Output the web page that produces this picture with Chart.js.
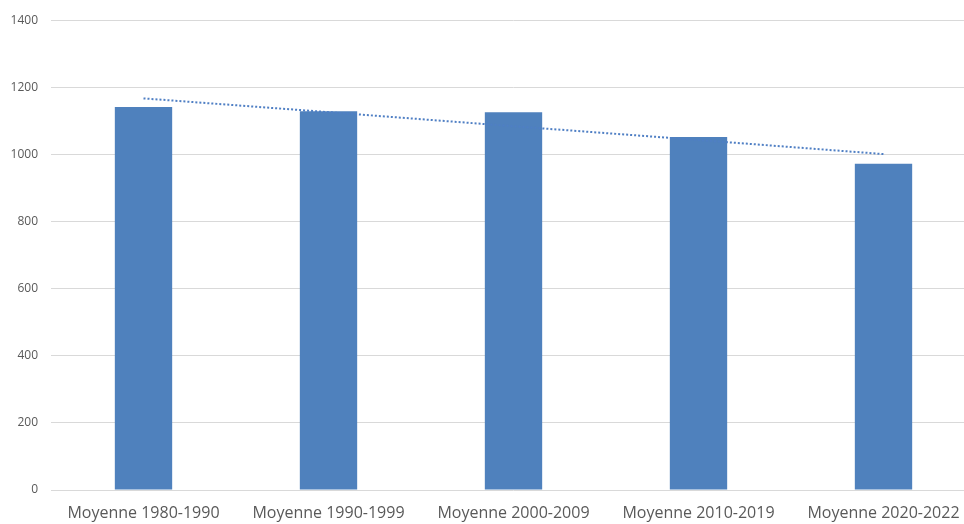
<!DOCTYPE html>
<html><head><meta charset="utf-8">
<script src="https://cdn.jsdelivr.net/npm/chart.js@4.4.0/dist/chart.umd.min.js"></script>
<style>
html,body{margin:0;padding:0;overflow:hidden;background:#fff;}
#wrap{width:990px;height:524px;}
</style></head>
<body><div id="wrap"><canvas id="c"></canvas></div>
<script>
const categories = ["Moyenne 1980-1990","Moyenne 1990-1999","Moyenne 2000-2009","Moyenne 2010-2019","Moyenne 2020-2022"];
const values = [1141, 1129, 1126, 1052, 972];
const trendValues = [1167, 1126, 1084, 1043, 1001];
const yTicks = [0, 200, 400, 600, 800, 1000, 1200, 1400];

new Chart(document.getElementById('c'), {
  data: {
    labels: categories,
    datasets: [
      {type:'line', data: trendValues, borderColor:'#4F7FC4', borderWidth:2, borderDash:[2,2],
       pointRadius:0, fill:false, order:0, tension:0},
      {type:'bar', data: values, backgroundColor:'#4F81BD', borderWidth:0,
       barPercentage:0.31, categoryPercentage:1, order:1}
    ]
  },
  options: {
    responsive:true, maintainAspectRatio:false, animation:false,
    layout:{padding:{top:19,right:14,left:0,bottom:0}},
    plugins:{legend:{display:false}, tooltip:{enabled:false}, title:{display:false}},
    scales:{
      x:{
        grid:{display:false, drawTicks:false},
        border:{display:false},
        ticks:{color:'#595959', font:{family:'Open Sans', size:16}, padding:14, maxRotation:0, autoSkip:false},
        afterFit(s){ s.height = 34; }
      },
      y:{
        min:0, max:1400,
        afterBuildTicks(s){ s.ticks = yTicks.map(v=>({value:v})); },
        grid:{color:'#D9D9D9', lineWidth:1, drawTicks:false},
        border:{display:false},
        ticks:{color:'#595959', font:{family:'Open Sans', size:12}, padding:13, callback:(v)=>String(v)},
        afterFit(s){ s.width = 51; }
      }
    }
  }
});
</script></body></html>
